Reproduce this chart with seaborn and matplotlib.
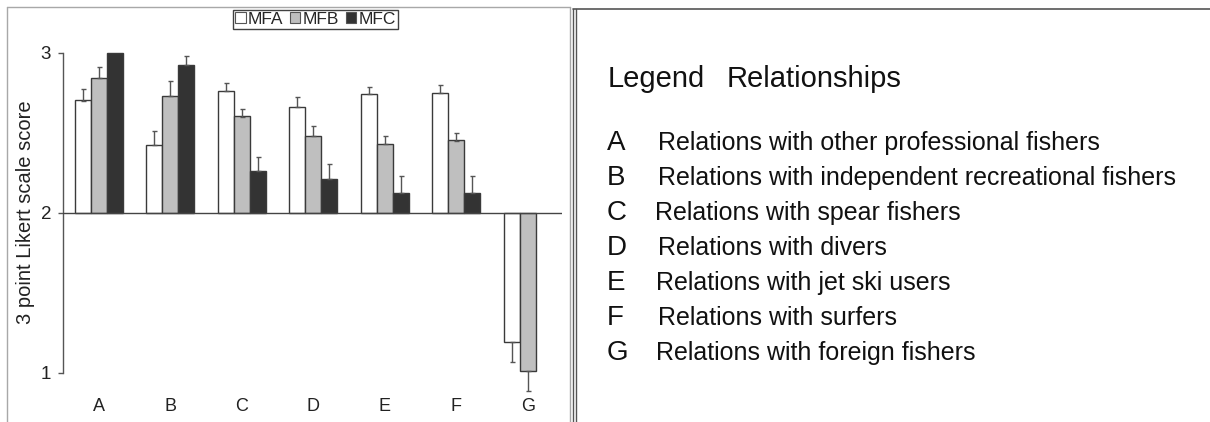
import numpy as np
import pandas as pd
import matplotlib
matplotlib.use("Agg")
import matplotlib.pyplot as plt
import seaborn as sns
from matplotlib.lines import Line2D
from matplotlib.patches import Patch

# ---------------- data ----------------
groups = ["A", "B", "C", "D", "E", "F", "G"]
series = ["MFA", "MFB", "MFC"]
mfa = [2.70, 2.42, 2.76, 2.66, 2.74, 2.75, 1.19]
mfb = [2.84, 2.73, 2.60, 2.48, 2.43, 2.45, 1.01]
mfc = [3.00, 2.92, 2.26, 2.21, 2.12, 2.12, np.nan]
err_mfa = [0.07, 0.09, 0.05, 0.065, 0.047, 0.048, 0.127]
err_mfb = [0.07, 0.09, 0.05, 0.06, 0.05, 0.05, 0.127]
err_mfc = [0.0, 0.06, 0.09, 0.095, 0.11, 0.11, np.nan]
y_ticks = [1, 2, 3]
y_label = "3 point Likert scale score"
baseline = 2
legend_title = ["Legend", "Relationships"]
legend_letters = ["A", "B", "C", "D", "E", "F", "G"]
legend_texts = [
    "Relations with other professional fishers",
    "Relations with independent recreational fishers",
    "Relations with spear fishers",
    "Relations with divers",
    "Relations with jet ski users",
    "Relations with surfers",
    "Relations with foreign fishers",
]

colors = {"MFA": "#ffffff", "MFB": "#bfbfbf", "MFC": "#333333"}

rows = []
for s, vals, errs in zip(series, [mfa, mfb, mfc], [err_mfa, err_mfb, err_mfc]):
    for g, v, e in zip(groups, vals, errs):
        if not np.isnan(v):
            rows.append({"group": g, "series": s, "score": v, "err": e})
df = pd.DataFrame(rows)

# ---------------- figure ----------------
sns.set_theme(style="white")
plt.rcParams["font.family"] = ["Liberation Sans", "DejaVu Sans"]

W, H = 1210, 422
fig = plt.figure(figsize=(W / 100, H / 100), dpi=100)

def fx(px):
    return px / W

def fy(py):
    return 1 - py / H

# axes placement (pixels)
ax_left, ax_right = 63, 562
ymin, ymax = 0.85, 3.25
px_per_unit = 160.0
y3_px = 52.5
top_px = y3_px - (ymax - 3) * px_per_unit
bot_px = y3_px + (3 - ymin) * px_per_unit
ax = fig.add_axes([fx(ax_left), fy(bot_px), fx(ax_right - ax_left), (bot_px - top_px) / H])
ax.patch.set_alpha(0)

sns.barplot(data=df, x="group", y="score", hue="series", order=groups,
            hue_order=series, palette=colors, width=0.67, gap=0,
            edgecolor="#3a3a3a", linewidth=1.0, errorbar=None, legend=False,
            ax=ax)

# bars grow from the baseline (2) and error bars point away from it
for cont, s in zip(ax.containers, series):
    sub = df[df["series"] == s].set_index("group")
    sub = sub.reindex([g for g in groups if g in sub.index])
    for bar, (g, r) in zip(cont.patches, sub.iterrows()):
        v = r["score"]
        bar.set_y(baseline)
        bar.set_height(v - baseline)
        e = r["err"]
        if e and e > 0:
            xc = bar.get_x() + bar.get_width() / 2
            yerr = [[0], [e]] if v >= baseline else [[e], [0]]
            ax.errorbar([xc], [v], yerr=yerr, fmt="none", ecolor="#555555",
                        elinewidth=1.0, capsize=1.8, capthick=1.0, zorder=1)

ax.axhline(baseline, color="#444444", lw=1.0, zorder=3)
ax.set_xlim(-0.5, 6.48)
ax.set_ylim(ymin, ymax)
ax.set_yticks(y_ticks)
ax.set_yticklabels([str(t) for t in y_ticks])
ax.set_xlabel("")
ax.set_ylabel("")
for side in ["top", "right", "bottom"]:
    ax.spines[side].set_visible(False)
ax.spines["left"].set_bounds(1, 3)
ax.spines["left"].set_color("#555555")
ax.spines["left"].set_linewidth(1.0)
ax.tick_params(axis="y", direction="out", length=3.6, width=1.0, color="#555555",
               pad=5, labelsize=13.5, labelcolor="#222222", left=True)
ax.tick_params(axis="x", length=0, pad=1, labelsize=13, labelcolor="#222222")

fig.text(fx(26), fy(212), y_label, rotation=90, ha="center", va="center",
         fontsize=14.5, color="#222222")

# series legend
handles = [Patch(facecolor=colors[s], edgecolor="#555555", linewidth=0.8, label=s) for s in series]
leg = fig.legend(handles=handles, loc="upper left", bbox_to_anchor=(fx(233), fy(10)),
                 ncol=3, fontsize=12.5, frameon=True, fancybox=False, edgecolor="#111111",
                 handlelength=0.6, handleheight=0.6, handletextpad=0.12,
                 columnspacing=0.4, borderpad=0.12, borderaxespad=0)
leg.get_frame().set_linewidth(1.0)

# panel frames
def fline(x0, y0, x1, y1, color, lw):
    fig.add_artist(Line2D([fx(x0), fx(x1)], [fy(y0), fy(y1)], color=color, lw=lw,
                          transform=fig.transFigure))

fline(7, 7, 570, 7, "#a8a8a8", 1.0)
fline(7, 7, 7, 422, "#a8a8a8", 1.0)
fline(570, 7, 570, 422, "#a8a8a8", 1.0)
fline(573, 8.5, 1210, 8.5, "#555555", 1.2)
fline(573, 8.5, 573, 422, "#555555", 1.0)
fline(576, 8.5, 576, 422, "#555555", 1.0)

# relationship legend panel
fig.text(fx(608), fy(79), legend_title[0], ha="left", va="center", fontsize=21, color="#111111")
fig.text(fx(727), fy(79), legend_title[1], ha="left", va="center", fontsize=21, color="#111111")
row_y = [143, 178, 213, 248, 283, 318, 353]
text_x = [658, 658, 655, 658, 656, 658, 656]
for letter, txt, yy, tx in zip(legend_letters, legend_texts, row_y, text_x):
    fig.text(fx(607), fy(yy), letter, ha="left", va="center", fontsize=20, color="#111111")
    fig.text(fx(tx), fy(yy), txt, ha="left", va="center", fontsize=18, color="#111111")

fig.savefig("out.png", dpi=100)
